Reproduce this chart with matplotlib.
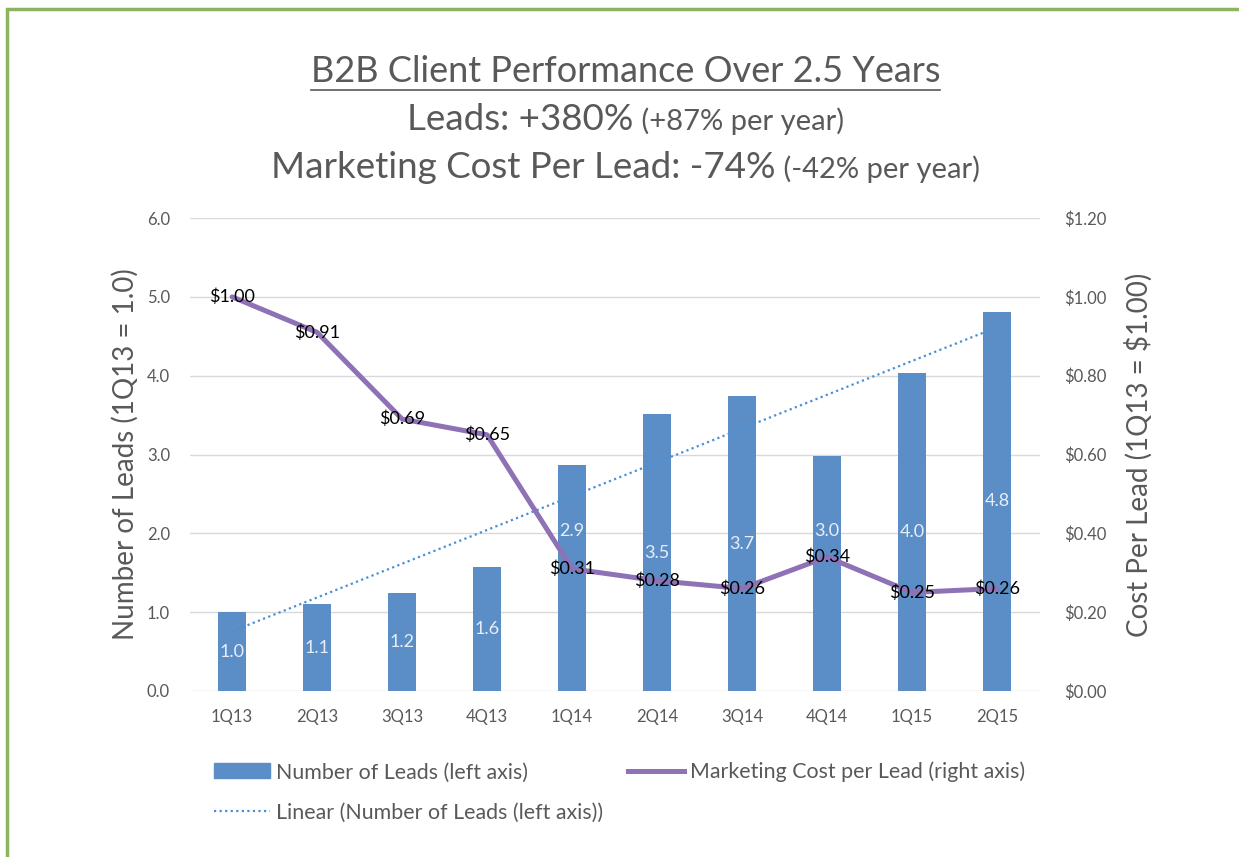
import numpy as np
import matplotlib
matplotlib.use("Agg")
import matplotlib.pyplot as plt
from matplotlib.lines import Line2D
from matplotlib.patches import Rectangle

# chart data
quarters = ['1Q13', '2Q13', '3Q13', '4Q13', '1Q14', '2Q14', '3Q14', '4Q14', '1Q15', '2Q15']
leads = [1.0, 1.1, 1.24, 1.57, 2.87, 3.51, 3.74, 2.98, 4.04, 4.81]
cost = [1.00, 0.91, 0.69, 0.65, 0.31, 0.28, 0.26, 0.34, 0.25, 0.26]
left_ticks = [0, 1, 2, 3, 4, 5, 6]
right_ticks = [0.0, 0.2, 0.4, 0.6, 0.8, 1.0, 1.2]

plt.rcParams['font.family'] = ['Lato', 'DejaVu Sans']
gray = '#595959'
blue = '#5b8ec6'
purple = '#8e72b5'

fig = plt.figure(figsize=(12.39, 8.57), dpi=100)
fig.patch.set_facecolor('white')

# green frame
fig.add_artist(Rectangle((7 / 1239, -0.1), 1.2, (857 - 9) / 857 + 0.1, transform=fig.transFigure,
                         fill=False, edgecolor='#8db360', linewidth=2.5))

ax = fig.add_axes([0.153, 0.1937, 0.686, 0.5519])
x = np.arange(len(quarters))

bars = ax.bar(x, leads, width=0.33, color=blue, zorder=2)
ax.set_ylim(0, 6)
ax.set_xlim(-0.5, len(quarters) - 0.5)
ax.set_yticks(left_ticks)
ax.set_yticklabels(['%.1f' % v for v in left_ticks])
ax.set_xticks(x)
ax.set_xticklabels(quarters)
ax.grid(axis='y', color='#d9d9d9', linewidth=1, zorder=0)
ax.set_axisbelow(True)
for s in ax.spines.values():
    s.set_visible(False)
ax.tick_params(length=0, colors=gray, labelsize=12, pad=14)
ax.tick_params(axis='x', pad=13)
ax.set_ylabel('Number of Leads (1Q13 = 1.0)', fontsize=20, color=gray, labelpad=6)

# linear trend of leads
k, b = np.polyfit(x, leads, 1)
ax.plot(x, k * x + b, linestyle=(0, (1, 1.5)), color='#4a8fd6', linewidth=1.6, zorder=3)

# bar value labels (two moved up, clear of the line)
for i, v in enumerate(leads):
    yl = v / 2
    if i in (4, 7):
        yl = 2.03
    ax.text(i, yl, '%.1f' % v, ha='center', va='center', color='#e8eef7', fontsize=13, zorder=4)

ax2 = ax.twinx()
ax2.plot(x, cost, color=purple, linewidth=3.6, solid_capstyle='round', zorder=5)
ax2.set_ylim(0, 1.2)
ax2.set_yticks(right_ticks)
ax2.set_yticklabels(['$%.2f' % v for v in right_ticks])
for s in ax2.spines.values():
    s.set_visible(False)
ax2.tick_params(length=0, colors=gray, labelsize=12, pad=18)
ax2.set_ylabel('Cost Per Lead (1Q13 = $1.00)', fontsize=20, color=gray, labelpad=13)
for i, v in enumerate(cost):
    ax2.text(i, v, '$%.2f' % v, ha='center', va='center', color='black', fontsize=13, zorder=6)

# legend
h_leads = Rectangle((0, 0), 1, 1, color=blue)
h_cost = Line2D([], [], color=purple, linewidth=3.6)
h_lin = Line2D([], [], color='#4a8fd6', linestyle=(0, (1, 1.5)), linewidth=1.6)
fig.legend([h_leads, h_lin, h_cost],
           ['Number of Leads (left axis)', 'Linear (Number of Leads (left axis))',
            'Marketing Cost per Lead (right axis)'],
           ncol=2, loc='upper left', bbox_to_anchor=(0.166, 0.121), frameon=False,
           fontsize=15.4, labelcolor=gray, handlelength=2.6, handleheight=0.7,
           handletextpad=0.3, columnspacing=1.15, labelspacing=0.95, borderaxespad=0)

# titles
t1 = fig.text(0.505, 1 - 72 / 857, 'B2B Client Performance Over 2.5 Years', ha='center', va='center',
              fontsize=26, color=gray)


def two_part(y, big, small):
    a = fig.text(0, y, big, ha='left', va='baseline', fontsize=26.5, color=gray)
    c = fig.text(0, y, ' ' + small, ha='left', va='baseline', fontsize=21, color=gray)
    return a, c


l2 = two_part(1 - 130 / 857, 'Leads: +380%', '(+87% per year)')
l3 = two_part(1 - 178 / 857, 'Marketing Cost Per Lead: -74%', '(-42% per year)')

fig.canvas.draw()
r = fig.canvas.get_renderer()
W = fig.bbox.width
for a, c in (l2, l3):
    wa = a.get_window_extent(r).width
    wc = c.get_window_extent(r).width
    x0 = 0.505 - (wa + wc) / 2 / W
    a.set_x(x0)
    c.set_x(x0 + wa / W)

bb = t1.get_window_extent(r)
fig.add_artist(Line2D([bb.x0 / W, bb.x1 / W], [(bb.y0 - 1) / fig.bbox.height] * 2,
                      transform=fig.transFigure, color=gray, linewidth=1.2))

fig.savefig('out.png', dpi=100, facecolor='white')
